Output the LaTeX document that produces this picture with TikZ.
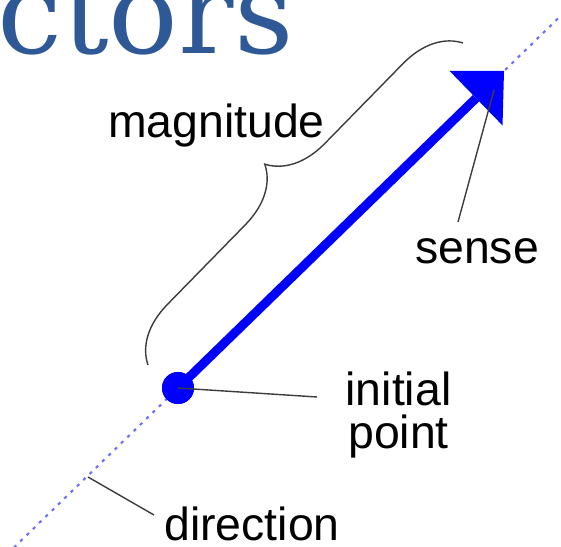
\documentclass[tikz,border=0pt]{standalone}
\usepackage{fontspec}
\setmainfont{Liberation Sans}
\newfontfamily\titlefont{DejaVu Serif}
\usetikzlibrary{arrows.meta,decorations.pathreplacing}
\definecolor{titleblue}{RGB}{46,89,150}
\definecolor{dirblue}{RGB}{110,110,255}
\definecolor{leadgray}{RGB}{60,60,60}

\begin{document}
\begin{tikzpicture}[x=0.02cm,y=-0.02cm]
    \tikzset{txt/.style = {font=\fontsize{26.4}{24.4}\selectfont,inner sep=0pt}}
    \tikzset{leader/.style = {draw=leadgray,line width=0.8pt}}
    \tikzset{vec/.style = {draw=blue,line width=0.18cm,
        -{Triangle[width=1.52cm,length=0.78cm,line width=0pt]}}}
    \tikzset{dot/.style = {shape=circle,fill=blue,inner sep=0pt,minimum size=0.64cm}}
    \useasboundingbox (0,0) rectangle (561,547);
    \clip (0,0) rectangle (561,547);
    % title, cut by the frame
    \node[titleblue,font=\titlefont\fontsize{66}{66}\selectfont,inner sep=0pt,
      anchor=base east] (title) at (294,54) {ctors};
    % line of action
    \coordinate (lo) at (14,547.5); \coordinate (hi) at (565,11.7);
    \draw[draw=dirblue,line width=1.2pt,dash pattern=on 1.8pt off 3.2pt] (lo) -- (hi);
    % the vector
    \node[dot] (init) at (178,388) {}; \coordinate (tip) at (504,71);
    \draw[vec] (init.center) -- (tip);
    \node[dot] at (init) {};
    % labels
    \node[txt,anchor=base] (magn) at (216.5,138) {magnitude};
    \node[txt,anchor=base] (sense) at (477,263) {sense};
    \node[txt,anchor=base,align=center] (ipt) at (398.5,448) {initial\\point};
    \node[txt,anchor=base] (dirn) at (252,540) {direction};
    % brace and leaders
    \coordinate (b1) at (148,365); \coordinate (b2) at (463,43);
    \draw[leader,decorate,decoration={brace,amplitude=1.14cm}] (b1) -- (b2);
    \coordinate (sensept) at (494,90); \coordinate (senseend) at (458,222);
    \draw[leader] (senseend) -- (sensept);
    \coordinate (iptend) at (317,397);
    \draw[leader] (init.center) -- (iptend);
    \coordinate (dirpt) at (88,477); \coordinate (dirend) at (154,515);
    \draw[leader] (dirpt) -- (dirend);
\end{tikzpicture}
\end{document}
